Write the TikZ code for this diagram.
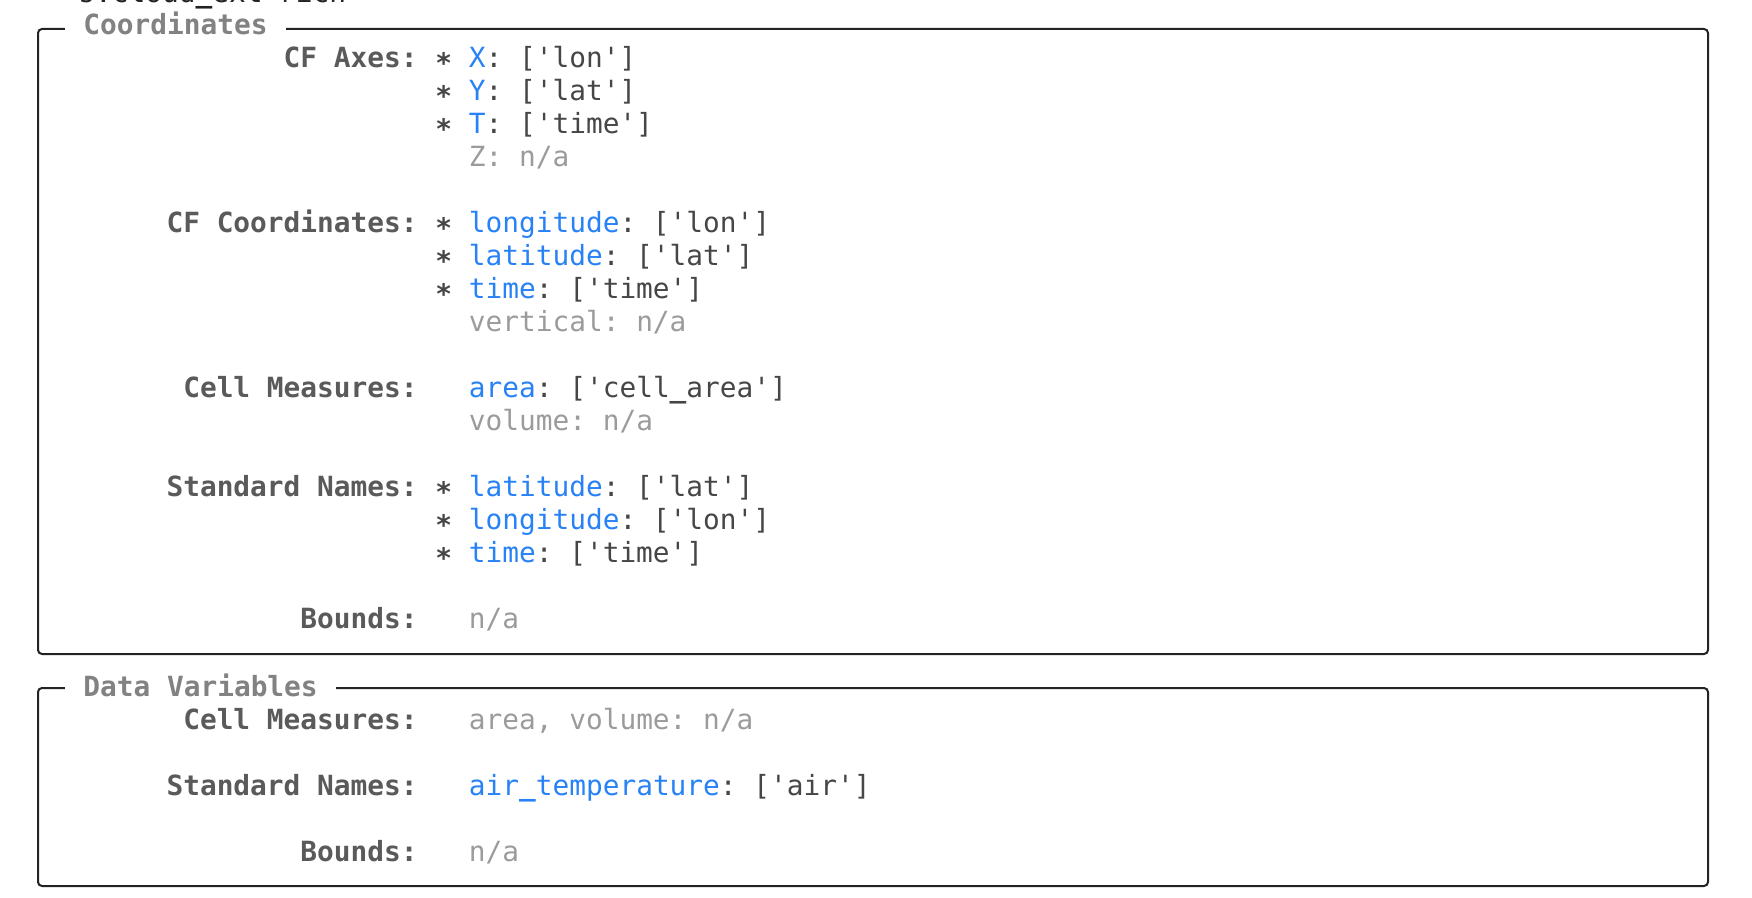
\documentclass[tikz,border=0pt]{standalone}
\usepackage{fontspec}
\setmonofont{DejaVu Sans Mono}
\usepackage{xcolor}
\definecolor{cfblue}{RGB}{40,130,245}
\definecolor{cflabel}{RGB}{90,90,90}
\definecolor{cftitle}{RGB}{130,130,130}
\definecolor{cftext}{RGB}{70,70,70}
\definecolor{cfgray}{RGB}{155,155,155}
\definecolor{cfline}{RGB}{35,35,35}
\newcommand{\cffont}{\ttfamily\fontsize{13.9}{16.5}\selectfont}
\newcommand{\cfkey}[1]{\textcolor{cfblue}{#1}}
\newcommand{\cfna}[1]{\textcolor{cfgray}{#1}}
\newcommand{\cfus}{\textbf{\_}}
\newcommand{\cfstar}{\textbf{∗}}
\tikzstyle{panel} = [draw=cfline, line width=1pt, rounded corners=2pt]
\tikzstyle{paneltitle} = [anchor=base west, fill=white, inner xsep=9pt, inner ysep=1pt, font=\cffont\bfseries, text=cftitle]
\tikzstyle{rowlabel} = [anchor=base east, inner sep=0pt, font=\cffont\bfseries, text=cflabel]
\tikzstyle{rowvalue} = [anchor=base west, inner sep=0pt, font=\cffont, text=cftext]

\begin{document}
\begin{tikzpicture}[x=0.5pt, y=-0.5pt]
\useasboundingbox (0,0) rectangle (1752,898);

% cut-off line above the panels
\node[rowvalue, text=cfline] (header) at (78,3) {s.cloud\cfus ext rich};

% Coordinates panel
\draw[panel] (38,29) rectangle (1708,654);
\node[paneltitle] (coordtitle) at (65,35) {Coordinates};

\node[rowlabel] (axeslabel) at (418,68) {CF Axes:};
\node[rowvalue] (axesx) at (435,68) {\cfstar{} \cfkey{X}: ['lon']};
\node[rowvalue] (axesy) at (435,101) {\cfstar{} \cfkey{Y}: ['lat']};
\node[rowvalue] (axest) at (435,134) {\cfstar{} \cfkey{T}: ['time']};
\node[rowvalue] (axesz) at (468.5,167) {\cfna{Z: n/a}};

\node[rowlabel] (coordlabel) at (418,233) {CF Coordinates:};
\node[rowvalue] (coordlon) at (435,233) {\cfstar{} \cfkey{longitude}: ['lon']};
\node[rowvalue] (coordlat) at (435,266) {\cfstar{} \cfkey{latitude}: ['lat']};
\node[rowvalue] (coordtime) at (435,299) {\cfstar{} \cfkey{time}: ['time']};
\node[rowvalue] (coordvert) at (468.5,332) {\cfna{vertical: n/a}};

\node[rowlabel] (celllabel) at (418,398) {Cell Measures:};
\node[rowvalue] (cellarea) at (468.5,398) {\cfkey{area}: ['cell\cfus area']};
\node[rowvalue] (cellvol) at (468.5,431) {\cfna{volume: n/a}};

\node[rowlabel] (stdlabel) at (418,497) {Standard Names:};
\node[rowvalue] (stdlat) at (435,497) {\cfstar{} \cfkey{latitude}: ['lat']};
\node[rowvalue] (stdlon) at (435,530) {\cfstar{} \cfkey{longitude}: ['lon']};
\node[rowvalue] (stdtime) at (435,563) {\cfstar{} \cfkey{time}: ['time']};

\node[rowlabel] (boundslabel) at (418,629) {Bounds:};
\node[rowvalue] (bounds) at (468.5,629) {\cfna{n/a}};

% Data Variables panel
\draw[panel] (38,688) rectangle (1708,886);
\node[paneltitle] (datatitle) at (65,696) {Data Variables};

\node[rowlabel] (dcelllabel) at (418,729) {Cell Measures:};
\node[rowvalue] (dcell) at (468.5,729) {\cfna{area, volume: n/a}};

\node[rowlabel] (dstdlabel) at (418,795) {Standard Names:};
\node[rowvalue] (dstd) at (468.5,795) {\cfkey{air\cfus temperature}: ['air']};

\node[rowlabel] (dboundslabel) at (418,861) {Bounds:};
\node[rowvalue] (dbounds) at (468.5,861) {\cfna{n/a}};
\end{tikzpicture}
\end{document}
